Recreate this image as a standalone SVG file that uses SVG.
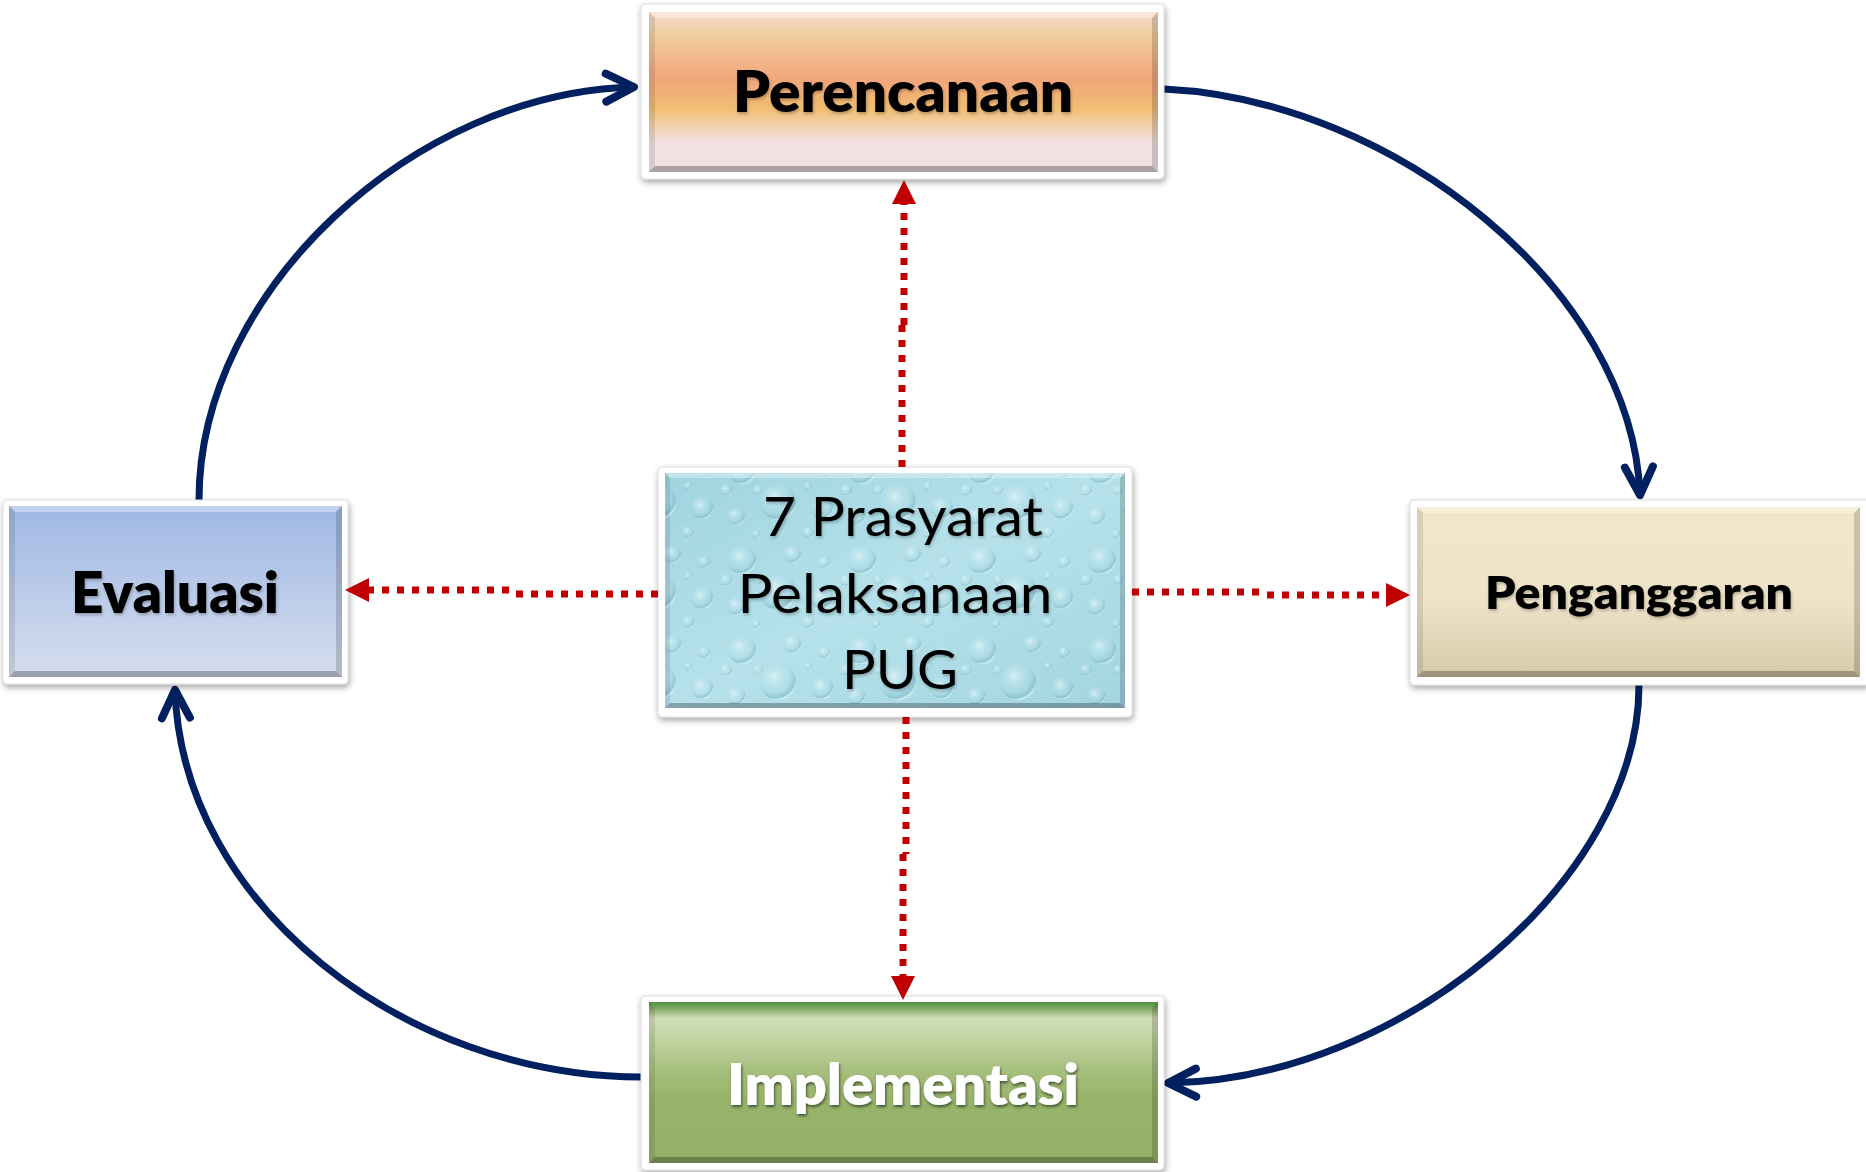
<svg xmlns="http://www.w3.org/2000/svg" width="1866" height="1172" viewBox="0 0 1866 1172">
<style>
.frame{fill:#ffffff;stroke:#dcdcdc;stroke-width:1;filter:url(#shadow)}
.bt{fill:#ffffff;opacity:0.35}
.bb{fill:#000000;opacity:0.28}
.bl{fill:#000000;opacity:0.10}
.br{fill:#000000;opacity:0.16}
.lbl{font-family:Lato,"Liberation Sans",sans-serif;font-weight:800;text-anchor:middle;fill:#000000}
.ctr{font-family:Lato,"Liberation Sans",sans-serif;font-weight:400;text-anchor:middle;fill:#000000;font-size:54px}
.dot{fill:none;stroke:#C00000;stroke-width:7;stroke-dasharray:7 8;marker-end:url(#redArrow)}
.cyc{fill:none;stroke:#002060;stroke-width:7;marker-end:url(#chev)}
</style>
<defs>
<filter id="shadow" x="-10%" y="-10%" width="120%" height="130%">
<feDropShadow dx="1" dy="3" stdDeviation="3" flood-color="#000000" flood-opacity="0.35"/>
</filter>
<filter id="txtShadow" x="-10%" y="-20%" width="120%" height="150%">
<feDropShadow dx="1" dy="2" stdDeviation="1.5" flood-color="#000000" flood-opacity="0.55"/>
</filter>
<filter id="txtShadowLight" x="-10%" y="-20%" width="120%" height="150%">
<feDropShadow dx="1" dy="2" stdDeviation="1.5" flood-color="#000000" flood-opacity="0.25"/>
</filter>
<linearGradient id="gPer" x1="0" y1="0" x2="0" y2="1">
<stop offset="0" stop-color="#F3DACA"/>
<stop offset="0.15" stop-color="#F2CF9E"/>
<stop offset="0.33" stop-color="#F2B386"/>
<stop offset="0.43" stop-color="#F2A67B"/>
<stop offset="0.6" stop-color="#F1BD72"/>
<stop offset="0.72" stop-color="#F2D4B0"/>
<stop offset="0.82" stop-color="#F4E1E3"/>
<stop offset="1" stop-color="#F2E0E2"/>
</linearGradient>
<linearGradient id="gEva" x1="0" y1="0" x2="0" y2="1">
<stop offset="0" stop-color="#9FB8E4"/>
<stop offset="1" stop-color="#D6DEEE"/>
</linearGradient>
<linearGradient id="gPen" x1="0" y1="0" x2="0" y2="1">
<stop offset="0" stop-color="#F3E6CA"/>
<stop offset="0.55" stop-color="#EEE3C8"/>
<stop offset="1" stop-color="#D8CBAA"/>
</linearGradient>
<linearGradient id="gImp" x1="0" y1="0" x2="0" y2="1">
<stop offset="0" stop-color="#4F8E3F"/>
<stop offset="0.05" stop-color="#8DB271"/>
<stop offset="0.1" stop-color="#D1DEB6"/>
<stop offset="0.2" stop-color="#C6D7A8"/>
<stop offset="0.45" stop-color="#A4BD7A"/>
<stop offset="0.6" stop-color="#98B46B"/>
<stop offset="1" stop-color="#95B167"/>
</linearGradient>
<linearGradient id="gCen" x1="0" y1="0" x2="1" y2="1">
<stop offset="0" stop-color="#A0D4E0"/>
<stop offset="0.5" stop-color="#B6E1EA"/>
<stop offset="1" stop-color="#A3D5E0"/>
</linearGradient>
<radialGradient id="drop" cx="0.4" cy="0.35" r="0.65">
<stop offset="0" stop-color="#EAF8FB" stop-opacity="0.7"/>
<stop offset="0.6" stop-color="#B8E2EB" stop-opacity="0.15"/>
<stop offset="0.9" stop-color="#6FAEC0" stop-opacity="0.5"/>
<stop offset="1" stop-color="#E8F7FA" stop-opacity="0.6"/>
</radialGradient>
<pattern id="drops" patternUnits="userSpaceOnUse" width="120" height="90">
<circle cx="22" cy="20" r="14" fill="url(#drop)"/>
<circle cx="72" cy="14" r="9" fill="url(#drop)"/>
<circle cx="58" cy="52" r="18" fill="url(#drop)"/>
<circle cx="102" cy="58" r="11" fill="url(#drop)"/>
<circle cx="16" cy="66" r="9" fill="url(#drop)"/>
<circle cx="104" cy="22" r="6" fill="url(#drop)"/>
<circle cx="38" cy="40" r="5" fill="url(#drop)"/>
<circle cx="88" cy="82" r="6" fill="url(#drop)"/>
<circle cx="36" cy="84" r="4" fill="url(#drop)"/>
<circle cx="88" cy="36" r="4" fill="url(#drop)"/>
<circle cx="6" cy="40" r="6" fill="url(#drop)"/>
</pattern>
<marker id="chev" markerUnits="userSpaceOnUse" viewBox="-40 -25 50 50" markerWidth="50" markerHeight="50" refX="0" refY="0" orient="auto" overflow="visible">
<path d="M-28,-14 L0,0 L-28,14" fill="none" stroke="#002060" stroke-width="8" stroke-linecap="round" stroke-linejoin="round"/>
</marker>
<marker id="redArrow" markerUnits="userSpaceOnUse" viewBox="-2 -14 28 28" markerWidth="28" markerHeight="28" refX="0" refY="0" orient="auto" overflow="visible">
<path d="M0,-12 L24,0 L0,12 Z" fill="#C00000"/>
</marker>
</defs>
<rect x="0" y="0" width="1866" height="1172" fill="#ffffff"/>

<g id="connectors">
<path class="cyc" d="M199,500 C199,290 415,92 634,87"/>
<path class="cyc" d="M1164,89 C1395,100 1632,290 1640,495"/>
<path class="cyc" d="M1639,685 C1639,880 1400,1080 1168,1083"/>
<path class="cyc" d="M641,1077 C405,1077 182,905 175,690"/>
</g>

<g id="node-perencanaan">
<rect class="frame" x="641" y="4" width="523" height="175" rx="4"/>
<rect x="649" y="12" width="509" height="160" fill="url(#gPer)"/>
<polygon class="bt" points="649,12 1158,12 1152,18 655,18"/>
<polygon class="bb" points="649,172 1158,172 1152,166 655,166"/>
<polygon class="bl" points="649,12 655,18 655,166 649,172"/>
<polygon class="br" points="1158,12 1152,18 1152,166 1158,172"/>
<text class="lbl" x="903" y="112" font-size="57" textLength="340" lengthAdjust="spacingAndGlyphs" filter="url(#txtShadowLight)">Perencanaan</text>
</g>

<g id="node-evaluasi">
<rect class="frame" x="3" y="500" width="345" height="184" rx="4"/>
<rect x="9" y="506" width="333" height="171" fill="url(#gEva)"/>
<polygon class="bt" points="9,506 342,506 336,512 15,512"/>
<polygon class="bb" points="9,677 342,677 336,671 15,671"/>
<polygon class="bl" points="9,506 15,512 15,671 9,677"/>
<polygon class="br" points="342,506 336,512 336,671 342,677"/>
<text class="lbl" x="175" y="613" font-size="57" textLength="208" lengthAdjust="spacingAndGlyphs" filter="url(#txtShadowLight)">Evaluasi</text>
</g>

<g id="node-penganggaran">
<rect class="frame" x="1410" y="500" width="460" height="185" rx="4"/>
<rect x="1417" y="507" width="443" height="170" fill="url(#gPen)"/>
<polygon class="bt" points="1417,507 1860,507 1854,513 1423,513"/>
<polygon class="bb" points="1417,677 1860,677 1854,671 1423,671"/>
<polygon class="bl" points="1417,507 1423,513 1423,671 1417,677"/>
<polygon class="br" points="1860,507 1854,513 1854,671 1860,677"/>
<text class="lbl" x="1639" y="609" font-size="46" textLength="308" lengthAdjust="spacingAndGlyphs" filter="url(#txtShadowLight)">Penganggaran</text>
</g>

<g id="node-implementasi">
<rect class="frame" x="641" y="996" width="523" height="174" rx="4"/>
<rect x="649" y="1002" width="509" height="161" fill="url(#gImp)"/>
<polygon class="bb" points="649,1163 1158,1163 1152,1157 655,1157"/>
<polygon class="bl" points="649,1002 655,1008 655,1157 649,1163"/>
<polygon class="br" points="1158,1002 1152,1008 1152,1157 1158,1163"/>
<text class="lbl" x="903" y="1105" font-size="57" style="fill:#ffffff" textLength="352" lengthAdjust="spacingAndGlyphs" filter="url(#txtShadow)">Implementasi</text>
</g>

<g id="node-prasyarat">
<rect class="frame" x="658" y="467" width="474" height="250" rx="4"/>
<rect x="665" y="473" width="460" height="235" fill="url(#gCen)"/>
<rect x="665" y="473" width="460" height="235" fill="url(#drops)"/>
<polygon class="bt" points="665,473 1125,473 1120,478 670,478"/>
<polygon class="bb" points="665,708 1125,708 1120,703 670,703"/>
<polygon class="bl" points="665,473 670,478 670,703 665,708"/>
<polygon class="br" points="1125,473 1120,478 1120,703 1125,708"/>
<g filter="url(#txtShadowLight)">
<text class="ctr" x="903" y="536" textLength="280" lengthAdjust="spacingAndGlyphs">7 Prasyarat</text>
<text class="ctr" x="895" y="613" textLength="315" lengthAdjust="spacingAndGlyphs">Pelaksanaan</text>
<text class="ctr" x="900" y="689" textLength="116" lengthAdjust="spacingAndGlyphs">PUG</text>
</g>
</g>

<g id="dotted-connectors">
<path class="dot" d="M902,467 V325 M904,325 V204"/>
<path class="dot" d="M906,717 V854 M903,854 V976"/>
<path class="dot" d="M658,594 H509 M509,590 H369"/>
<path class="dot" d="M1132,592 H1267 M1267,595 H1386"/>
</g>
</svg>
